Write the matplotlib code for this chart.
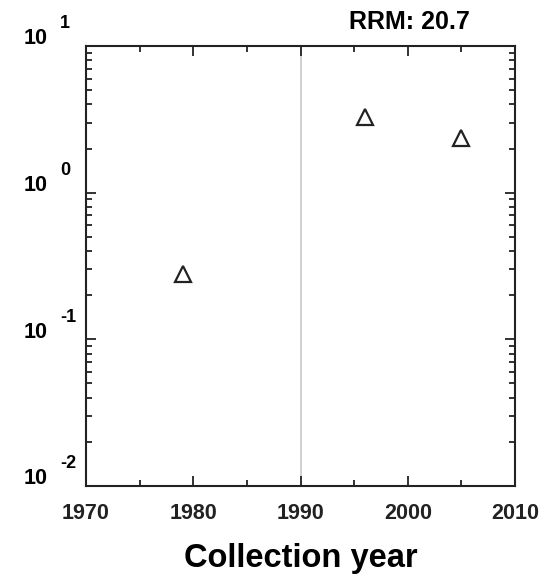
import matplotlib
matplotlib.use('Agg')
import matplotlib.pyplot as plt
from matplotlib.ticker import LogLocator, MultipleLocator, NullFormatter
from matplotlib.transforms import blended_transform_factory

plt.rcParams['font.family'] = ['Liberation Sans', 'DejaVu Sans']

# data
years = [1979, 1996, 2005]
values = [0.28, 3.3, 2.37]
decades = [-2, -1, 0, 1]
xticks = [1970, 1980, 1990, 2000, 2010]
rrm_label = 'RRM: 20.7'

fig = plt.figure(figsize=(5.5, 5.81), dpi=100)
ax = fig.add_axes([86 / 550, 95 / 581, 429 / 550, 440 / 581])

ax.axvline(1990, color='#c8c8c8', lw=1.2, zorder=0)
ax.plot(years, values, linestyle='none', marker='^', markersize=12,
        markerfacecolor='none', markeredgecolor='#222222', markeredgewidth=1.6)

ax.set_yscale('log')
ax.set_ylim(1e-2, 1e1)
ax.set_xlim(1970, 2010)
ax.set_xticks(xticks)
ax.xaxis.set_minor_locator(MultipleLocator(5))
ax.yaxis.set_major_locator(LogLocator(base=10, numticks=10))
ax.yaxis.set_minor_locator(LogLocator(base=10, subs=range(2, 10), numticks=20))
ax.yaxis.set_major_formatter(NullFormatter())
ax.yaxis.set_minor_formatter(NullFormatter())

ax.tick_params(which='both', direction='in', top=True, right=True, width=1.3, colors='#222222')
ax.tick_params(which='major', length=7)
ax.tick_params(which='minor', length=4)
ax.tick_params(axis='x', which='major', labelsize=15.5, pad=12)
for lab in ax.get_xticklabels():
    lab.set_fontweight('bold')

for s in ax.spines.values():
    s.set_linewidth(1.5)
    s.set_color('#222222')

# y labels written as 10 with a raised exponent
tr = blended_transform_factory(ax.transAxes, ax.transData)
for d in decades:
    ax.annotate('10', xy=(0, 10.0 ** d), xycoords=tr, xytext=(-38, 7),
                textcoords='offset pixels', ha='right', va='center',
                fontsize=15.5, fontweight='bold', annotation_clip=False)
    ax.annotate(str(d), xy=(0, 10.0 ** d), xycoords=tr, xytext=(-26, 22),
                textcoords='offset pixels', ha='left', va='center',
                fontsize=13, fontweight='bold', annotation_clip=False)

ax.set_xlabel('Collection year', fontsize=23.5, fontweight='bold', labelpad=14)
fig.text(470 / 550, 1 - 22 / 581, rrm_label, ha='right', va='center',
         fontsize=18, fontweight='bold')

fig.savefig('out.png', dpi=100)
